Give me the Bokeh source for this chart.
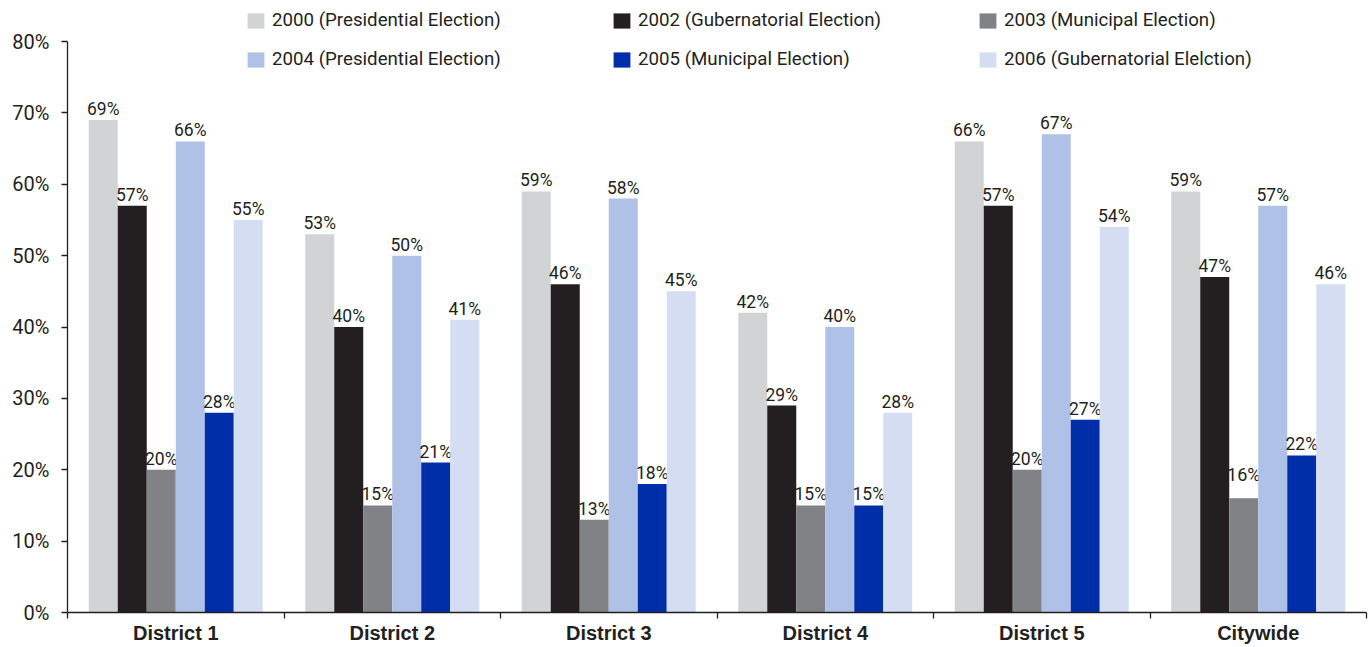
from bokeh.plotting import figure
from bokeh.models import (ColumnDataSource, Range1d, FixedTicker, Legend, LegendItem)
from bokeh.transform import dodge
from bokeh.core.properties import value
from bokeh.embed import file_html
from bokeh.resources import INLINE

# Voter turnout by district, percent
districts = ["District 1", "District 2", "District 3", "District 4", "District 5", "Citywide"]
turnout_2000 = [69, 53, 59, 42, 66, 59]
turnout_2002 = [57, 40, 46, 29, 57, 47]
turnout_2003 = [20, 15, 13, 15, 20, 16]
turnout_2004 = [66, 50, 58, 40, 67, 57]
turnout_2005 = [28, 21, 18, 15, 27, 22]
turnout_2006 = [55, 41, 45, 28, 54, 46]

series_names = [
    "2000 (Presidential Election)",
    "2002 (Gubernatorial Election)",
    "2003 (Municipal Election)",
    "2004 (Presidential Election)",
    "2005 (Municipal Election)",
    "2006 (Gubernatorial Elelction)",
]
series_values = [turnout_2000, turnout_2002, turnout_2003, turnout_2004, turnout_2005, turnout_2006]
series_colors = ["#d1d3d4", "#231f20", "#808285", "#b0c1e8", "#002ea9", "#d4ddf1"]

y_ticks = [0, 10, 20, 30, 40, 50, 60, 70, 80]

INK = "#231f20"
BAR_W = 29 / 216.5

# the frame runs to the top edge so the legend can sit above the 80% line;
# the axis itself stops at 80%
PLOT_H = 612
AXIS_H = 571
y_top = 80 * PLOT_H / AXIS_H

p = figure(width=1371, height=647, frame_width=1299, frame_height=PLOT_H,
           output_backend="svg", toolbar_location=None,
           x_range=Range1d(0, len(districts)), y_range=Range1d(0, y_top),
           min_border_left=67, min_border_right=5, min_border_top=0, min_border_bottom=35)
p.outline_line_color = None
p.xgrid.visible = False
p.ygrid.visible = False
p.background_fill_color = "white"
p.border_fill_color = "white"

centers = [i + 0.5 for i in range(len(districts))]

def add_labels(src, off, lift, size):
    p.text(x=dodge("x", off, range=p.x_range), y="v", text="lab", source=src,
           text_align="center", text_baseline="bottom", y_offset=-lift,
           text_font=value("Roboto"), text_font_size=size, text_color=INK)

items = []
for k, (name, vals, color) in enumerate(zip(series_names, series_values, series_colors)):
    src = ColumnDataSource(dict(x=centers, v=vals, lab=[f"{v}%" for v in vals]))
    off = (k - 2.5) * BAR_W
    r = p.vbar(x=dodge("x", off, range=p.x_range), top="v", width=BAR_W, bottom=0,
               source=src, fill_color=color, line_color=None)
    items.append(LegendItem(label=name, renderers=[r]))

    if k == 2:
        # the citywide 2003 label sits higher above its bar
        main = ColumnDataSource(dict(x=centers[:-1], v=vals[:-1], lab=[f"{v}%" for v in vals[:-1]]))
        extra = ColumnDataSource(dict(x=centers[-1:], v=vals[-1:], lab=[f"{v}%" for v in vals[-1:]]))
        add_labels(main, off, 1, "17.5px")
        add_labels(extra, off, 13, "18px")
    else:
        add_labels(src, off, 1, "17.5px")

# y axis
ya = p.yaxis[0]
ya.bounds = (0, 80)
ya.ticker = FixedTicker(ticks=y_ticks)
ya.major_label_overrides = {t: f"{t}%" for t in y_ticks}
ya.major_label_text_font = "Roboto"
ya.major_label_text_font_size = "20px"
ya.major_label_text_color = INK
ya.major_label_standoff = 12
ya.major_tick_out = 6
ya.major_tick_in = 0
ya.minor_tick_out = 0
ya.minor_tick_in = 0
ya.axis_line_color = INK
ya.axis_line_width = 1.3
ya.major_tick_line_color = INK
ya.major_tick_line_width = 1.3

# x axis: labels at group centres, marks at group boundaries
xa = p.xaxis[0]
xa.ticker = FixedTicker(ticks=centers, minor_ticks=list(range(len(districts) + 1)))
xa.major_label_overrides = {c: d for c, d in zip(centers, districts)}
xa.major_label_text_font = "Liberation Sans"
xa.major_label_text_font_style = "bold"
xa.major_label_text_font_size = "20px"
xa.major_label_text_color = INK
xa.major_label_standoff = 3
xa.major_tick_out = 0
xa.major_tick_in = 0
xa.minor_tick_out = 6
xa.minor_tick_in = 0
xa.minor_tick_line_color = INK
xa.minor_tick_line_width = 1.3
xa.axis_line_color = INK
xa.axis_line_width = 1.5

legend = Legend(items=items, location=(178, 542), orientation="horizontal", ncols=3,
                glyph_width=21, glyph_height=19, label_height=19, label_width=322,
                label_standoff=6, spacing=17, padding=0, margin=0,
                border_line_color=None, background_fill_alpha=0,
                label_text_font="Roboto", label_text_font_size="18.7px",
                label_text_color=INK)
p.add_layout(legend, "center")

open("out.html", "w").write(file_html(p, INLINE))
